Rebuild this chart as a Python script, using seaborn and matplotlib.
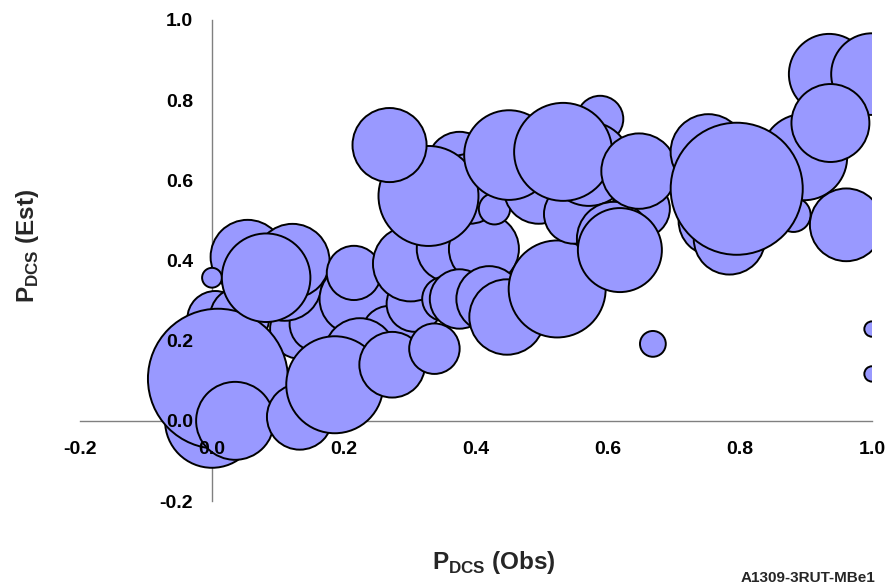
import seaborn as sns
import matplotlib
matplotlib.use("Agg")
import matplotlib.pyplot as plt
from matplotlib.ticker import FormatStrFormatter
import pandas as pd

sns.set_style("white")
plt.rcParams['font.family'] = ['Liberation Sans', 'DejaVu Sans']
plt.rcParams['font.weight'] = 'bold'
plt.rcParams['axes.unicode_minus'] = False
plt.rcParams['mathtext.fontset'] = 'custom'
plt.rcParams['mathtext.bf'] = 'Liberation Sans:bold'
plt.rcParams['mathtext.rm'] = 'Liberation Sans:bold'

'''data read off the chart (drawing order = list order)'''
# observed P_DCS per group
p_obs = [0.005, 0.042, 0.133, 0.160, 0.110, 0.054, 0.122, 0.000, 0.000, 0.009,
         0.035, 0.133, 0.082, 0.216, 0.269, 0.224, 0.307, 0.186, 0.273, 0.337,
         0.215, 0.301, 0.360, 0.412, 0.352, 0.375, 0.420, 0.447, 0.523, 0.375,
         0.390, 0.428, 0.328, 0.269, 0.495, 0.548, 0.450, 0.588, 0.571, 0.532,
         0.650, 0.609, 0.618, 0.647, 0.881, 0.760, 0.784, 0.935, 1.000, 0.897,
         0.937, 0.752, 0.795, 0.961, 0.668, 1.000, 1.000]
# estimated P_DCS per group
p_est = [0.254, 0.259, 0.229, 0.242, 0.342, 0.409, 0.399, 0.357, 0.000, 0.105,
         0.000, 0.010, 0.357, 0.304, 0.217, 0.167, 0.292, 0.090, 0.140, 0.180,
         0.369, 0.392, 0.429, 0.429, 0.304, 0.304, 0.304, 0.259, 0.329, 0.641,
         0.579, 0.529, 0.561, 0.688, 0.579, 0.516, 0.663, 0.753, 0.641, 0.671,
         0.529, 0.454, 0.426, 0.623, 0.514, 0.499, 0.454, 0.865, 0.865, 0.658,
         0.743, 0.671, 0.579, 0.489, 0.192, 0.229, 0.117]
# number of exposures per group (bubble size)
n_exp = [16, 18, 18, 16, 28, 28, 28, 2, 45, 100,
         31, 22, 40, 25, 16, 26, 16, 48, 22, 13,
         15, 29, 22, 25, 10, 18, 22, 29, 48, 21,
         25, 5, 51, 28, 25, 18, 41, 11, 36, 49,
         17, 28, 36, 29, 6, 25, 26, 33, 34, 38,
         31, 29, 89, 27, 3.4, 1.2, 1.2]

ticks = [-0.2, 0.0, 0.2, 0.4, 0.6, 0.8, 1.0]

df = pd.DataFrame({"obs": p_obs, "est": p_est, "n": n_exp})

'''figure'''
fig = plt.figure(figsize=(8.95, 5.87), dpi=100)
ax = fig.add_axes([80 / 895, 1 - 501 / 587, 792 / 895, 481 / 587])

# bubble area proportional to n (largest ~140 px across)
n_max = max(n_exp)
sns.scatterplot(
    data=df, x="obs", y="est", size="n",
    sizes=(0, 101.6 * n_max), size_norm=(0, n_max),
    color="#9999FF", edgecolor="black", linewidth=1.4, alpha=1,
    legend=False, ax=ax, zorder=1,
)

# Excel style axes crossing at zero
ax.set_xlim(-0.2, 1.0)
ax.set_ylim(-0.2, 1.0)
ax.set_axisbelow(False)  # tick labels sit on top of the bubbles
ax.spines['left'].set_position(('data', 0))
ax.spines['bottom'].set_position(('data', 0))
ax.spines['top'].set_visible(False)
ax.spines['right'].set_visible(False)
for side in ['left', 'bottom']:
    ax.spines[side].set_color('#808080')
    ax.spines[side].set_linewidth(1.0)
    ax.spines[side].set_zorder(0.5)  # axis lines hidden behind bubbles

ax.set_xticks(ticks)
ax.set_yticks(ticks)
ax.xaxis.set_major_formatter(FormatStrFormatter('%.1f'))
ax.yaxis.set_major_formatter(FormatStrFormatter('%.1f'))
ax.tick_params(axis='both', direction='out', length=5, width=1, color='#808080',
               labelsize=14, labelcolor='black')
ax.tick_params(axis='x', pad=9.5)
ax.tick_params(axis='y', pad=8.5)
ax.set_xlabel("")
ax.set_ylabel("")
ax.grid(False)

# axis titles
fig.text(494 / 895, 1 - 563 / 587, r'$\mathbf{P}_{\mathbf{DCS}}$ (Obs)',
         fontsize=17.5, fontweight='bold', ha='center', va='center')
fig.text(28 / 895, 1 - 246 / 587, r'$\mathbf{P}_{\mathbf{DCS}}$ (Est)',
         fontsize=17.5, fontweight='bold', ha='center', va='center', rotation=90)
fig.text(875 / 895, 1 - 578 / 587, "A1309-3RUT-MBe1",
         fontsize=11, fontweight='bold', ha='right', va='center')

plt.savefig("out.png", dpi=100)
